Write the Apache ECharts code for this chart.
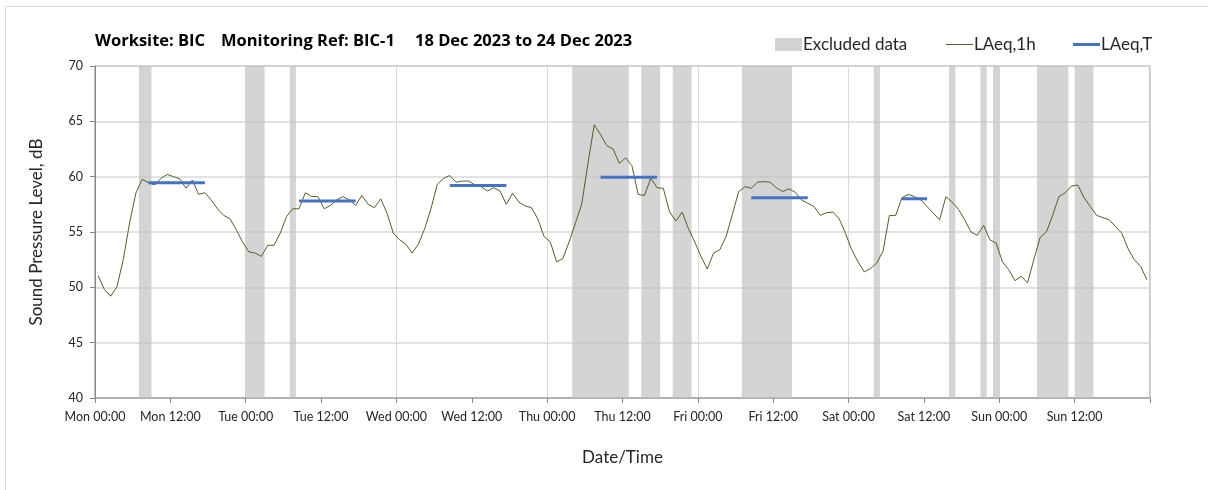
<!DOCTYPE html>
<html lang="en">
<head>
    <meta charset="UTF-8">
    <script src="https://cdn.jsdelivr.net/npm/echarts@6/dist/echarts.min.js"></script>
    <title>BIC-1 noise</title>
    <style>
        body { margin: 0; background: #fff; }
    </style>
</head>
<body>
<div id="main" style="width: 1208px;height:490px;"></div>
<script type="text/javascript">

    // hourly LAeq, one value per hour from Mon 00:00 (plotted at the middle of the hour)
    var laeq1h = [
        51.05, 49.8, 49.2, 50.06, 52.5, 55.8, 58.5, 59.76, 59.46, 59.25,
        59.85, 60.2, 60.0, 59.8, 58.95, 59.7, 58.4, 58.55, 57.9, 57.1,
        56.5, 56.2, 55.2, 54.1, 53.2, 53.1, 52.8, 53.8, 53.8, 54.9,
        56.4, 57.1, 57.1, 58.55, 58.2, 58.2, 57.1, 57.4, 57.9, 58.2,
        57.9, 57.4, 58.3, 57.5, 57.2, 58.0, 56.7, 54.9, 54.3, 53.9,
        53.1, 53.9, 55.3, 57.1, 59.3, 59.85, 60.1, 59.5, 59.6, 59.6,
        59.25, 59.1, 58.7, 59.0, 58.7, 57.5, 58.5, 57.7, 57.35, 57.2,
        56.2, 54.6, 54.1, 52.3, 52.6, 54.1, 55.8, 57.5, 61.2, 64.7,
        63.8, 62.8, 62.5, 61.2, 61.7, 61.0, 58.4, 58.3, 59.85, 59.0,
        58.95, 56.8, 56.0, 56.8, 55.3, 54.1, 52.8, 51.65, 53.1, 53.4,
        54.6, 56.6, 58.65, 59.1, 58.95, 59.5, 59.55, 59.5, 59.0, 58.65,
        58.9, 58.6, 57.9, 57.6, 57.3, 56.5, 56.75, 56.8, 56.2, 54.9,
        53.4, 52.3, 51.4, 51.7, 52.2, 53.3, 56.5, 56.5, 58.1, 58.4,
        58.2, 57.9, 57.3, 56.7, 56.1, 58.2, 57.7, 57.05, 56.1, 55.0,
        54.7, 55.6, 54.3, 54.0, 52.3, 51.6, 50.6, 51.0, 50.4, 52.5,
        54.5, 55.0, 56.5, 58.2, 58.55, 59.15, 59.25, 58.1, 57.3, 56.5,
        56.3, 56.1, 55.5, 54.9, 53.5, 52.5, 51.9, 50.7
    ];

    // period LAeq,T (hours from Mon 00:00)
    var periodStart = [8.5, 32.5, 56.5, 80.5, 104.5, 128.5];
    var periodEnd = [17.5, 41.5, 65.5, 89.5, 113.5, 132.5];
    var periodLAeq = [59.45, 57.8, 59.2, 59.95, 58.1, 58.0];

    // excluded data (hours from Mon 00:00)
    var excludedStart = [7, 24, 31, 76, 87, 92, 103, 124, 136, 141, 143, 150, 156];
    var excludedEnd = [9, 27, 32, 85, 90, 95, 111, 125, 137, 142, 144, 155, 159];

    var dayNames = ['Mon', 'Tue', 'Wed', 'Thu', 'Fri', 'Sat', 'Sun'];
    var yTicks = [40, 45, 50, 55, 60, 65, 70];

    var font = 'Lato, "Open Sans", sans-serif';

    var myChart = echarts.init(document.getElementById('main'));

    var lineData = laeq1h.map(function (v, i) { return [i + 0.5, v]; });

    var bands = excludedStart.map(function (s, i) {
        return [{ xAxis: s }, { xAxis: excludedEnd[i] }];
    });

    var series = [{
        name: 'Excluded data',
        type: 'line',
        data: [],
        itemStyle: { color: '#d3d3d3' },
        markArea: {
            silent: true,
            itemStyle: { color: '#bfbfbf', opacity: 0.68 },
            data: bands
        }
    }, {
        name: 'LAeq,1h',
        type: 'line',
        data: lineData,
        symbol: 'none',
        itemStyle: { color: '#4f6228' },
        lineStyle: { color: '#4f6228', width: 1 },
        z: 3
    }];

    periodLAeq.forEach(function (v, i) {
        series.push({
            name: 'LAeq,T',
            type: 'line',
            data: [[periodStart[i], v], [periodEnd[i], v]],
            symbol: 'none',
            itemStyle: { color: '#4472c4' },
            lineStyle: { color: '#4472c4', width: 3 },
            z: 4
        });
    });

    function legendAt(left, name, color, h) {
        return {
            left: left,
            top: 31,
            itemWidth: 27,
            itemHeight: h,
            icon: 'rect',
            data: [{ name: name, icon: 'rect', itemStyle: { color: color } }],
            textStyle: { fontFamily: font, fontSize: 17, color: '#262626', padding: [0, 0, 0, -4] }
        };
    }

    var option = {
        animation: false,
        backgroundColor: '#fff',
        title: [
            { text: 'Worksite: BIC', left: 90, top: 28 },
            { text: 'Monitoring Ref: BIC-1', left: 216, top: 28 },
            { text: '18 Dec 2023 to 24 Dec 2023', left: 410, top: 28 }
        ].map(function (t) {
            t.textStyle = { fontFamily: '"Open Sans", Lato, sans-serif', fontSize: 16.5, fontWeight: 'bold', color: '#000' };
            return t;
        }),
        legend: [
            legendAt(770, 'Excluded data', '#d3d3d3', 13),
            legendAt(941, 'LAeq,1h', '#4f6228', 1),
            legendAt(1068, 'LAeq,T', '#4472c4', 3)
        ],
        graphic: [{
            type: 'rect',
            shape: { x: 5.5, y: 6.5, width: 1400, height: 700 },
            style: { fill: 'none', stroke: '#d9d9d9', lineWidth: 1 },
            silent: true
        }],
        grid: {
            left: 95, right: 58, top: 66, bottom: 92,
            show: true, borderColor: '#868686', borderWidth: 1
        },
        xAxis: [{
            type: 'value',
            min: 0, max: 168, interval: 12,
            name: 'Date/Time',
            nameLocation: 'middle',
            nameGap: 51,
            nameTextStyle: { fontFamily: font, fontSize: 17, color: '#262626' },
            axisLine: { lineStyle: { color: '#a6a6a6', width: 1.5 } },
            axisTick: { length: 5, lineStyle: { color: '#868686' } },
            axisLabel: {
                margin: 12,
                fontFamily: font, fontSize: 12.5, color: '#262626',
                formatter: function (v) {
                    if (v >= 168) return '';
                    return dayNames[Math.floor(v / 24)] + ' ' + (v % 24 === 0 ? '00:00' : '12:00');
                }
            },
            splitLine: { show: false }
        }, {
            type: 'value',
            min: 0, max: 168, interval: 24,
            position: 'bottom',
            axisLine: { show: false },
            axisTick: { show: false },
            axisLabel: { show: false },
            splitLine: { show: true, lineStyle: { color: '#d9d9d9' } }
        }],
        yAxis: {
            type: 'value',
            min: yTicks[0], max: yTicks[yTicks.length - 1], interval: 5,
            name: 'Sound Pressure Level, dB',
            nameLocation: 'middle',
            nameGap: 50,
            nameTextStyle: { fontFamily: font, fontSize: 17, color: '#262626' },
            axisLine: { show: true, lineStyle: { color: '#868686' } },
            axisTick: { show: true, length: 5, lineStyle: { color: '#868686' } },
            axisLabel: { margin: 12, fontFamily: font, fontSize: 12.5, color: '#262626' },
            splitLine: { lineStyle: { color: '#d9d9d9', width: 1.5 } }
        },
        series: series
    };

    myChart.setOption(option);

</script>
</body>
</html>
